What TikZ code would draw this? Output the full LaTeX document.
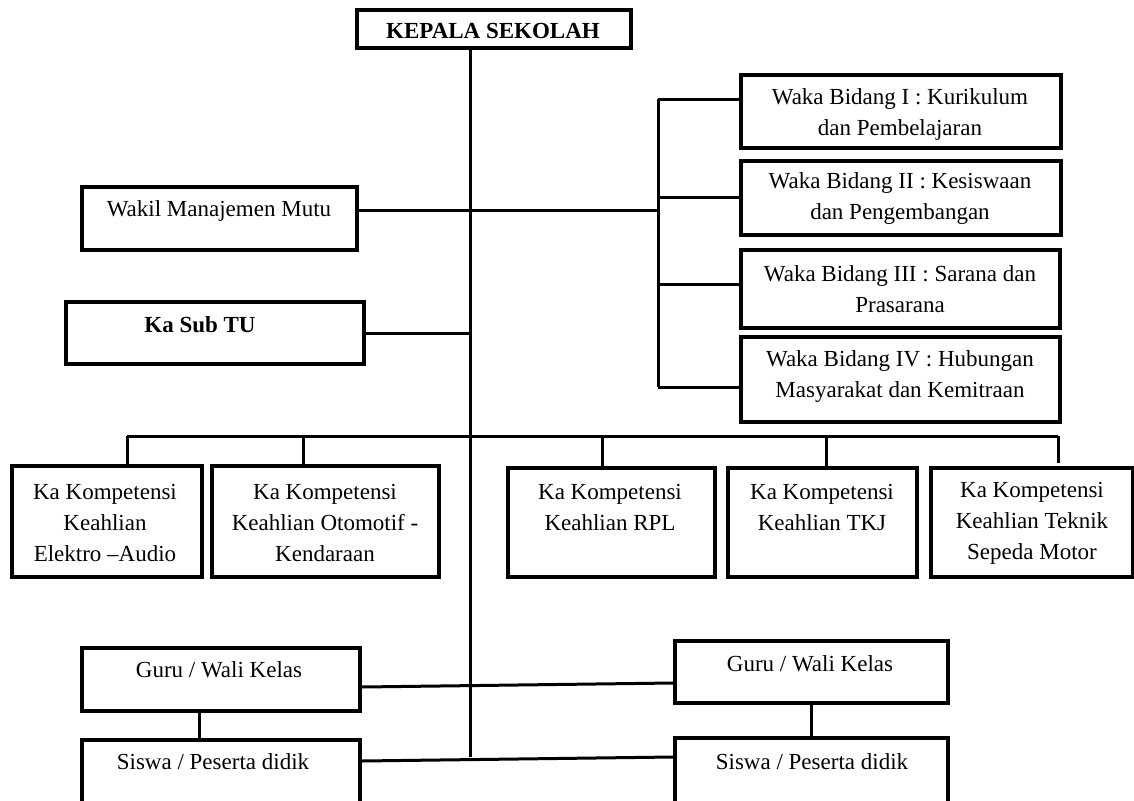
\documentclass[tikz,border=0pt]{standalone}
\usepackage{fontspec}
\setmainfont{Liberation Serif}
\begin{document}
\begin{tikzpicture}[x=1pt,y=-1pt,
  box/.style={draw=black,line width=3.4pt,rectangle,inner sep=0pt,fill=white},
  txt/.style={inner sep=0pt,align=center,font=\fontsize{23}{31}\selectfont},
  btxt/.style={txt,font=\fontsize{23}{31}\selectfont\bfseries},
  conn/.style={draw=black,line width=3pt}]
\useasboundingbox (0,0) rectangle (1134,800);
\fill[white] (0,0) rectangle (1134,800);
% boxes
\node[box,minimum width=274pt,minimum height=38pt] (kepala) at (494,29) {};
\node[box,minimum width=320pt,minimum height=73pt] (w1) at (901,111.5) {};
\node[box,minimum width=320pt,minimum height=74pt] (w2) at (901,198) {};
\node[box,minimum width=319pt,minimum height=78pt] (w3) at (900.5,289) {};
\node[box,minimum width=319pt,minimum height=85pt] (w4) at (900.5,379.5) {};
\node[box,minimum width=275pt,minimum height=63pt] (wmm) at (219.5,218.5) {};
\node[box,minimum width=298pt,minimum height=62pt] (subtu) at (215,333) {};
\node[box,minimum width=190pt,minimum height=111pt] (k1) at (107,521.5) {};
\node[box,minimum width=227pt,minimum height=111pt] (k2) at (325.5,521.5) {};
\node[box,minimum width=207pt,minimum height=109pt] (k3) at (611.5,522.5) {};
\node[box,minimum width=189pt,minimum height=109pt] (k4) at (822.5,522.5) {};
\node[box,minimum width=202pt,minimum height=109pt] (k5) at (1032,522.5) {};
\node[box,minimum width=278pt,minimum height=63pt] (g1) at (221,679.5) {};
\node[box,minimum width=273pt,minimum height=62pt] (g2) at (811.5,672) {};
\node[box,minimum width=278pt,minimum height=72pt] (s1) at (221,776) {};
\node[box,minimum width=273pt,minimum height=74pt] (s2) at (811.5,775) {};
% texts
\node[btxt] (kepalat) at (493,31) {KEPALA SEKOLAH};
\node[txt] (w1t) at (900,114) {Waka Bidang I : Kurikulum\\dan Pembelajaran};
\node[txt] (w2t) at (900,199) {Waka Bidang II : Kesiswaan\\dan Pengembangan};
\node[txt] (w3t) at (900,289) {Waka Bidang III : Sarana dan\\Prasarana};
\node[txt] (w4t) at (900,376) {Waka Bidang IV : Hubungan\\Masyarakat dan Kemitraan};
\node[txt] (wmmt) at (219,211) {Wakil Manajemen Mutu};
\node[btxt] (subtut) at (200,325) {Ka Sub TU};
\node[txt] (k1t) at (105,523) {Ka Kompetensi\\Keahlian\\Elektro --Audio};
\node[txt] (k2t) at (325,523) {Ka Kompetensi\\Keahlian Otomotif -\\Kendaraan};
\node[txt] (k3t) at (610,507.5) {Ka Kompetensi\\Keahlian RPL};
\node[txt] (k4t) at (822,507.5) {Ka Kompetensi\\Keahlian TKJ};
\node[txt] (k5t) at (1032,523) {Ka Kompetensi\\Keahlian Teknik\\Sepeda Motor};
\node[txt] (g1t) at (219,670) {Guru / Wali Kelas};
\node[txt] (g2t) at (810,664) {Guru / Wali Kelas};
\node[txt] (s1t) at (213,762) {Siswa / Peserta didik};
\node[txt] (s2t) at (812,762) {Siswa / Peserta didik};
% coordinates
\coordinate (trunkTop) at (470,48);
\coordinate (trunkBot) at (470,757);
\coordinate (brTop) at (658,99);
\coordinate (brBot) at (658,387);
\coordinate (busL) at (127,436);
\coordinate (busR) at (1058,436);
% connectors
\draw[conn] (trunkTop) -- (trunkBot);
\draw[conn] (wmm.east |- 0,210) -- (658,210);
\draw[conn] (brTop) -- (brBot);
\draw[conn] (brTop) -- (w1.west |- brTop);
\draw[conn] (658,197) -- (w2.west |- 0,197);
\draw[conn] (658,284) -- (w3.west |- 0,284);
\draw[conn] (brBot) -- (w4.west |- brBot);
\draw[conn] (subtu.east) -- (subtu.east -| trunkTop);
\draw[conn] (busL) -- (busR);
\draw[conn] (busL) -- (k1.north -| busL);
\draw[conn] (303,436) -- (k2.north -| 303,0);
\draw[conn] (602,436) -- (k3.north -| 602,0);
\draw[conn] (826,436) -- (k4.north -| 826,0);
\draw[conn] (busR) -- (1058,463);
\draw[conn] (g1.east |- 0,687) -- (g2.west |- 0,683);
\draw[conn] (s1.east |- 0,761) -- (s2.west |- 0,757);
\draw[conn] (g1.south -| 199,0) -- (s1.north -| 199,0);
\draw[conn] (g2.south) -- (s2.north);
\end{tikzpicture}
\end{document}
